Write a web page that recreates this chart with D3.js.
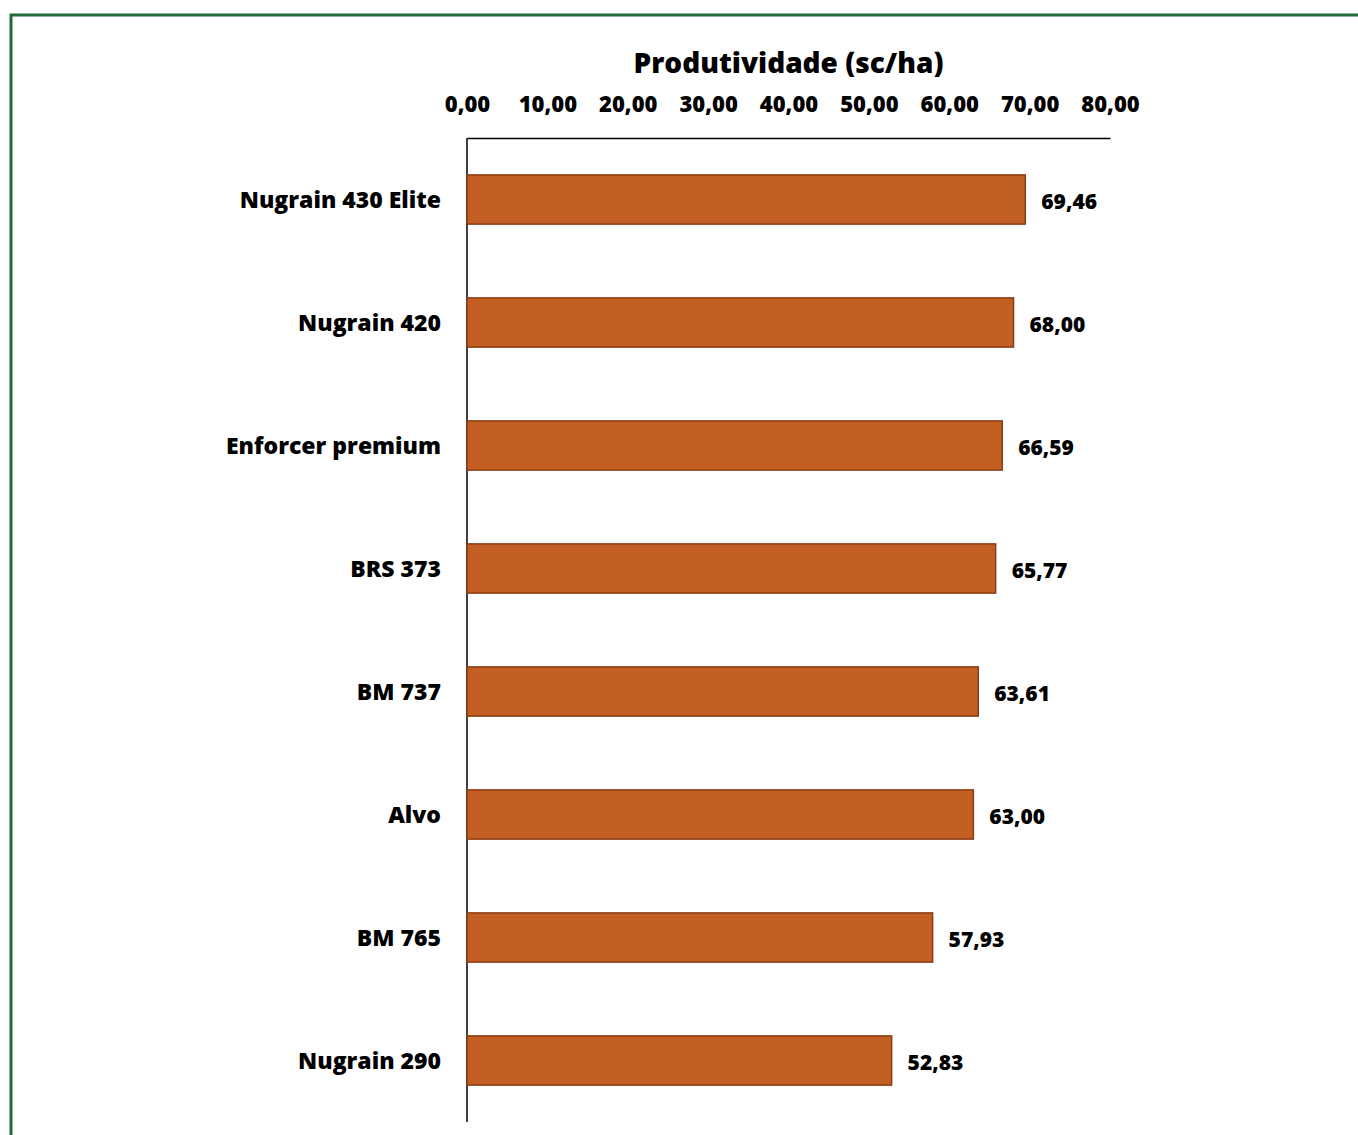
<!DOCTYPE html>
<meta charset="utf-8">
<script src="https://d3js.org/d3.v7.min.js"></script>
<style>
  body { margin: 0; background: #fff; }
  text { font-family: "Open Sans", Lato, sans-serif; font-weight: 800; fill: #000; }
</style>
<div id="my_dataviz"></div>
<script>

// data
var cultivars = ["Nugrain 430 Elite", "Nugrain 420", "Enforcer premium", "BRS 373", "BM 737", "Alvo", "BM 765", "Nugrain 290"];
var produtividade = [69.46, 68.00, 66.59, 65.77, 63.61, 63.00, 57.93, 52.83];
var tickValues = [0, 10, 20, 30, 40, 50, 60, 70, 80];

var W = 1358, H = 1135;
var margin = {top: 138, left: 467};

var fmt = function(v) { return d3.format(".2f")(v).replace(".", ","); };

var svg = d3.select("#my_dataviz")
  .append("svg")
    .attr("width", W)
    .attr("height", H);

// green frame
svg.append("path")
  .attr("d", "M11,1135 V15 H1358")
  .attr("fill", "none")
  .attr("stroke", "#1e6b3e")
  .attr("stroke-width", 3);

var g = svg.append("g")
  .attr("transform", "translate(" + margin.left + "," + margin.top + ")");

var x = d3.scaleLinear().domain([0, 80]).range([0, 643]);
var y = d3.scaleBand().domain(cultivars).range([0, 984]).paddingInner(0.6).paddingOuter(0.3);

// top axis
var xAxis = g.append("g")
  .call(d3.axisTop(x).tickValues(tickValues).tickSize(0).tickPadding(26).tickFormat(fmt));
xAxis.select(".domain").attr("stroke", "#000").attr("stroke-width", 1.5);
xAxis.selectAll("text")
  .style("font-size", "22px")
  .style("font-family", "'Open Sans', sans-serif")
  .style("font-weight", "800")
  .attr("fill", "#000");

// left axis line
g.append("line")
  .attr("x1", 0).attr("x2", 0)
  .attr("y1", 0).attr("y2", 984)
  .attr("stroke", "#000").attr("stroke-width", 1.5);

// title
g.append("text")
  .attr("x", x(40))
  .attr("y", -65)
  .attr("text-anchor", "middle")
  .style("font-size", "28px")
  .text("Produtividade (sc/ha)");

// bars
g.selectAll("rect.bar")
  .data(cultivars)
  .enter()
  .append("rect")
    .attr("class", "bar")
    .attr("x", 0)
    .attr("y", function(d) { return y(d); })
    .attr("width", function(d, i) { return x(produtividade[i]); })
    .attr("height", y.bandwidth())
    .attr("fill", "#c45f24")
    .attr("stroke", "#8a3c14")
    .attr("stroke-width", 1.5);

// category labels
g.selectAll("text.cat")
  .data(cultivars)
  .enter()
  .append("text")
    .attr("class", "cat")
    .attr("x", -26)
    .attr("y", function(d) { return y(d) + y.bandwidth() / 2; })
    .attr("dy", "0.35em")
    .attr("text-anchor", "end")
    .style("font-size", "23px")
    .text(function(d) { return d; });

// value labels
g.selectAll("text.val")
  .data(cultivars)
  .enter()
  .append("text")
    .attr("class", "val")
    .attr("x", function(d, i) { return x(produtividade[i]) + 16; })
    .attr("y", function(d) { return y(d) + y.bandwidth() / 2 + 2; })
    .attr("dy", "0.35em")
    .style("font-size", "21px")
    .text(function(d, i) { return fmt(produtividade[i]); });

</script>
